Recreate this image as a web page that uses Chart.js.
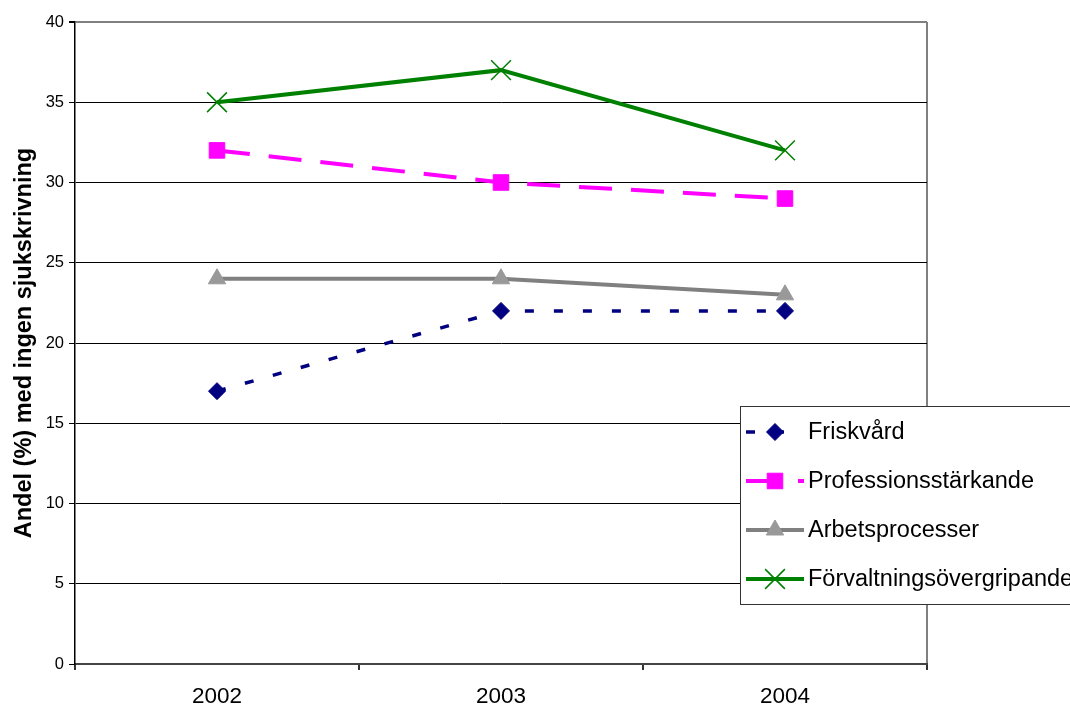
<!DOCTYPE html>
<html>
<head>
<meta charset="utf-8">
<title>Andel med ingen sjukskrivning</title>
<script src="https://cdn.jsdelivr.net/npm/chart.js@4/dist/chart.umd.min.js"></script>
<style>
  html, body { margin: 0; padding: 0; background: #fff; }
  #wrap { width: 1070px; height: 708px; }
</style>
</head>
<body>
<div id="wrap"><canvas id="chart" width="1070" height="708"></canvas></div>
<script>
// data
const years = ["2002", "2003", "2004"];
const friskvard = [17, 22, 22];
const professionsstarkande = [32, 30, 29];
const arbetsprocesser = [24, 24, 23];
const forvaltningsovergripande = [35, 37, 32];
const yTicks = [0, 5, 10, 15, 20, 25, 30, 35, 40];

const FONT = "'Liberation Sans', Arial, sans-serif";
const ctx = document.getElementById("chart");

// legend box drawn inside the plot, like the original
const boxLegend = {
    id: "boxLegend",
    afterDraw(chart) {
        const c = chart.ctx;
        const left = 740, top = 406, bottom = 604;
        c.save();
        c.fillStyle = "#fff";
        c.fillRect(left, top, chart.width - left + 5, bottom - top);
        c.strokeStyle = "#333";
        c.lineWidth = 1;
        c.strokeRect(left + 0.5, top + 0.5, chart.width - left + 5, bottom - top);

        const rows = [432, 481, 530, 579];
        chart.data.datasets.forEach((ds, i) => {
            const y = rows[i];
            c.save();
            c.beginPath();
            c.rect(left + 2, y - 15, 62, 30);
            c.clip();
            c.strokeStyle = ds.borderColor;
            c.lineWidth = ds.borderWidth;
            c.setLineDash(ds.borderDash || []);
            c.beginPath();
            c.moveTo(746, y);
            c.lineTo(804, y);
            c.stroke();
            c.restore();

            c.save();
            c.fillStyle = ds.pointBackgroundColor;
            c.strokeStyle = ds.pointBorderColor;
            c.lineWidth = ds.pointBorderWidth;
            c.setLineDash([]);
            Chart.helpers.drawPoint(c, {
                pointStyle: ds.pointStyle,
                radius: ds.pointRadius,
                rotation: 0,
                borderWidth: ds.pointBorderWidth
            }, 775, y);
            c.restore();

            c.fillStyle = "#000";
            c.font = "23.5px " + FONT;
            c.textBaseline = "middle";
            c.fillText(ds.label, 808, y + 1);
        });
        c.restore();
    }
};

new Chart(ctx, {
    type: "line",
    data: {
        labels: years,
        datasets: [
            {
                label: "Friskvård",
                data: friskvard,
                borderColor: "#000080",
                borderWidth: 3.5,
                borderDash: [9, 20],
                pointStyle: "rectRot",
                pointRadius: 8.5,
                pointBackgroundColor: "#000080",
                pointBorderColor: "#000080",
                pointBorderWidth: 1
            },
            {
                label: "Professionsstärkande",
                data: professionsstarkande,
                borderColor: "#FF00FF",
                borderWidth: 4,
                borderDash: [33, 19],
                pointStyle: "rect",
                pointRadius: 11,
                pointBackgroundColor: "#FF00FF",
                pointBorderColor: "#FF00FF",
                pointBorderWidth: 1
            },
            {
                label: "Arbetsprocesser",
                data: arbetsprocesser,
                borderColor: "#808080",
                borderWidth: 4,
                pointStyle: "triangle",
                pointRadius: 10,
                pointBackgroundColor: "#999999",
                pointBorderColor: "#999999",
                pointBorderWidth: 1
            },
            {
                label: "Förvaltningsövergripande",
                data: forvaltningsovergripande,
                borderColor: "#008000",
                borderWidth: 4,
                pointStyle: "crossRot",
                pointRadius: 14,
                pointBackgroundColor: "#008000",
                pointBorderColor: "#008000",
                pointBorderWidth: 1.5
            }
        ]
    },
    options: {
        responsive: false,
        animation: false,
        layout: { padding: { top: 22, right: 143, left: 0, bottom: 0 } },
        plugins: {
            legend: { display: false },
            tooltip: { enabled: false }
        },
        scales: {
            x: {
                offset: true,
                afterFit: (scale) => { scale.height = 44; },
                grid: {
                    offset: true,
                    drawOnChartArea: true,
                    color: (c) => c.type === "scale" ? "#808080" : "transparent",
                    lineWidth: 2,
                    tickColor: "#333",
                    tickLength: 6
                },
                border: { color: "#444", width: 2 },
                ticks: {
                    color: "#000",
                    padding: 13,
                    font: { family: FONT, size: 22.5 }
                }
            },
            y: {
                min: 0,
                max: 40,
                afterFit: (scale) => { scale.width = 75; },
                afterBuildTicks: (scale) => { scale.ticks = yTicks.map(v => ({ value: v })); },
                grid: {
                    color: (c) => c.tick && c.tick.value === 40 ? "#808080" : "#000",
                    lineWidth: (c) => c.tick && c.tick.value === 40 ? 2 : 1,
                    tickColor: "#000",
                    tickLength: 6
                },
                border: { color: "#000", width: 1.5 },
                ticks: {
                    color: "#000",
                    padding: 5,
                    font: { family: FONT, size: 16.5 }
                },
                title: {
                    display: true,
                    text: "Andel (%) med ingen sjukskrivning",
                    color: "#000",
                    padding: { top: 10, bottom: 0 },
                    font: { family: FONT, size: 23.5, weight: "bold" }
                }
            }
        }
    },
    plugins: [boxLegend]
});
</script>
</body>
</html>
